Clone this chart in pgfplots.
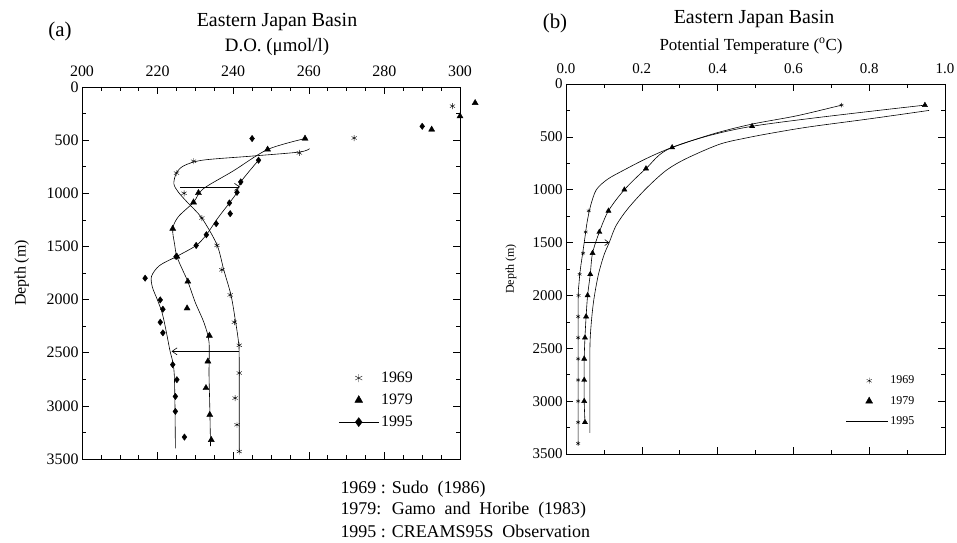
\documentclass[border=0pt]{standalone}
\usepackage{fontspec}
\setmainfont{Liberation Serif}
\usepackage{pgfplots}
\pgfplotsset{compat=1.18}
\usetikzlibrary{arrows.meta}

\newcommand{\fs}[1]{\fontsize{#1}{#1}\selectfont}

\pgfplotsset{
  profile/.style={
    scale only axis, y dir=reverse, ymin=0, ymax=3500,
    ytick={0,500,...,3500}, minor y tick num=1,
    tick align=inside, xticklabel pos=right,
    major tick length=7bp, minor tick length=4bp,
    every tick/.style={black, line width=0.6bp},
    axis line style={line width=0.8bp},
    tick label style={font=\fs{16}},
    xticklabel style={yshift=7bp},
    /pgf/number format/1000 sep={},
    /pgf/number format/assume math mode=true,
    clip=false,
  },
  curve/.style={no marks, smooth, black, line width=0.6bp, forget plot},
  star69/.style={only marks, mark=asterisk, mark size=3bp, black, mark options={line width=0.4bp}, forget plot},
  tri79/.style={only marks, mark=triangle*, mark size=3.5bp, black, forget plot},
  dia95/.style={only marks, mark=diamond*, mark size=3.2bp, black, forget plot},
  arr/.style={black, line width=0.6bp, forget plot},
}

\begin{document}
\begin{tikzpicture}[x=1bp,y=1bp]
\path[use as bounding box] (0,0) rectangle (957,543);

% ---------------- (a) dissolved oxygen
\begin{axis}[profile, at={(82bp,84bp)}, anchor=south west,
  width=378bp, height=372bp,
  xmin=200, xmax=300, xtick={200,220,...,300}, minor x tick num=3,
  ylabel={Depth (m)},
  every axis y label/.style={at={(axis description cs:-0.159,0.5)}, rotate=90, anchor=center, font=\fs{16}},
  legend style={at={(0.67,0.245)}, anchor=north west, draw=none, fill=none,
    font=\fs{16}, row sep=6bp, cells={anchor=west}},
]
\addlegendimage{legend image code/.code={\draw plot[mark=asterisk, mark size=4bp, mark options={line width=0.4bp}] coordinates {(20bp,0bp)};}}
\addlegendimage{legend image code/.code={\draw plot[mark=triangle*, mark size=4.5bp] coordinates {(20bp,0bp)};}}
\addlegendimage{legend image code/.code={\draw[line width=0.6bp] (0bp,0bp) -- (40bp,0bp); \draw plot[mark=diamond*, mark size=4.5bp] coordinates {(20bp,0bp)};}}
\legend{1969,1979,1995}

% 1969 Sudo
\addplot[curve] coordinates {
  (260.2,580) (257.5,612) (245,650) (232,688) (227,740) (225,808)
  (224.3,910) (225.5,990) (228,1090) (231.7,1233) (235.7,1484)
  (237.5,1720) (239.4,1956) (240.5,2180) (241.4,2400) (241.6,2600) (241.6,3430)};
\addplot[star69] coordinates {
  (257.5,620) (229.5,698) (225,810) (227,1000) (231.7,1233) (235.7,1490)
  (237,1720) (239.2,1956) (240.3,2213) (241.6,2430) (241.6,2691)
  (240.5,2927) (241,3178) (241.6,3430) (298,180) (272,480)};

% 1979 Gamo and Horibe
\addplot[curve] coordinates {
  (259,485) (249.1,588) (240,790) (232,960) (229.5,1085) (225.5,1220)
  (224,1333) (224.5,1480) (225.1,1595) (226.8,1736) (228,1830)
  (230,2030) (232.3,2220) (233.6,2400) (233.6,2700) (233.8,3000) (234,3380)};
\addplot[tri79] coordinates {
  (259,485) (249.1,588) (230.8,997) (229.5,1085) (224,1333) (225.1,1595)
  (228,1830) (227.8,2082) (233.7,2339) (233.3,2581) (232.8,2832)
  (233.8,3084) (234.2,3320) (292.5,400) (300,275) (304,150)};

% 1995 CREAMS95S
\addplot[curve] coordinates {
  (246.7,689) (242,893) (241,991) (239,1091) (236,1230) (232.9,1390)
  (230.2,1491) (225,1595) (220.5,1680) (218.4,1780) (218.6,1880)
  (219.8,1990) (221.1,2113) (222,2250) (223.2,2470) (224.4,2700) (224.7,3400)};
\addplot[dia95] coordinates {
  (245,485) (246.7,689) (242,893) (241,991) (239,1091) (239.2,1192)
  (235.5,1286) (232.9,1390) (230.2,1491) (224.9,1595) (216.7,1799)
  (220.7,2003) (221.4,2091) (220.7,2213) (221.4,2313) (224,2612)
  (225.1,2754) (224.7,2911) (224.7,3052) (227.1,3294) (290,370)};

\addplot[arr, -{Straight Barb[length=5bp,width=7bp]}] coordinates {(226,940) (241.8,940)};
\addplot[arr, -{Straight Barb[length=5bp,width=7bp]}] coordinates {(241.6,2487) (223.7,2487)};
\end{axis}

% ---------------- (b) potential temperature
\begin{axis}[profile, at={(566bp,89bp)}, anchor=south west,
  width=379bp, height=370bp,
  xmin=0, xmax=1, xtick={0,0.2,...,1.0}, minor x tick num=1,
  tick label style={font=\fs{15}},
  xticklabel style={/pgf/number format/fixed, /pgf/number format/fixed zerofill, /pgf/number format/precision=1},
  ylabel={Depth (m)},
  every axis y label/.style={at={(axis description cs:-0.145,0.5)}, rotate=90, anchor=center, font=\fs{12}},
  legend style={at={(0.73,0.222)}, anchor=north west, draw=none, fill=none,
    font=\fs{12}, row sep=7bp, cells={anchor=west}},
]
\addlegendimage{legend image code/.code={\draw plot[mark=asterisk, mark size=3bp, mark options={line width=0.3bp}] coordinates {(23bp,0bp)};}}
\addlegendimage{legend image code/.code={\draw plot[mark=triangle*, mark size=4bp] coordinates {(23bp,0bp)};}}
\addlegendimage{legend image code/.code={\draw[line width=0.6bp] (0bp,0bp) -- (42bp,0bp);}}
\legend{1969,1979,1995}

% 1969
\addplot[curve] coordinates {
  (0.727,200) (0.61,300) (0.49,380) (0.39,470) (0.28,600) (0.215,700)
  (0.155,810) (0.11,900) (0.08,1000) (0.065,1150) (0.056,1300)
  (0.05,1450) (0.044,1600) (0.038,1750) (0.034,1900) (0.032,2100) (0.032,3420)};
\addplot[star69, mark size=2.2bp] coordinates {
  (0.727,200) (0.060,1200) (0.052,1400) (0.045,1600) (0.036,1800)
  (0.033,2000) (0.032,2200) (0.032,2400) (0.032,2600) (0.032,2800)
  (0.032,3000) (0.032,3200) (0.032,3400)};

% 1979
\addplot[curve] coordinates {
  (0.947,200) (0.491,400) (0.280,600) (0.211,800) (0.154,1000)
  (0.112,1200) (0.088,1400) (0.070,1600) (0.064,1800) (0.057,2000)
  (0.053,2200) (0.050,2400) (0.048,2600) (0.048,2800) (0.048,3000) (0.050,3200)};
\addplot[tri79, mark size=3bp] coordinates {
  (0.947,200) (0.491,400) (0.280,600) (0.211,800) (0.154,1000)
  (0.112,1200) (0.088,1400) (0.070,1600) (0.064,1800) (0.057,2000)
  (0.053,2200) (0.050,2400) (0.048,2600) (0.048,2800) (0.048,3000) (0.050,3200)};

% 1995
\addplot[curve] coordinates {
  (0.958,250) (0.80,330) (0.643,405) (0.55,460) (0.476,510) (0.405,570)
  (0.317,706) (0.264,818) (0.211,990) (0.163,1180) (0.132,1340)
  (0.114,1500) (0.100,1620) (0.085,1810) (0.073,2050) (0.066,2290)
  (0.063,2530) (0.063,3300)};

\addplot[arr, -{Straight Barb[length=4bp,width=6bp]}] coordinates {(0.048,1500) (0.114,1500)};
\end{axis}

% titles
\node[font=\fs{21}] at (60,512) {(a)};
\node[font=\fs{20}] at (277,521) {Eastern Japan Basin};
\node[font=\fs{19}] at (277,496) {D.O. (μmol/l)};
\node[font=\fs{21}] at (555,520) {(b)};
\node[font=\fs{20}] at (754,524) {Eastern Japan Basin};
\node[font=\fs{17}] at (751,497) {Potential Temperature (\textsuperscript{o}C)};

% references
\node[anchor=west, font=\fs{18}] at (337,54) {1969 : Sudo~ (1986)};
\node[anchor=west, font=\fs{18}] at (337,33) {1979:~ Gamo~ and~ Horibe~ (1983)};
\node[anchor=west, font=\fs{18}] at (337,12) {1995 : CREAMS95S~ Observation};
\end{tikzpicture}
\end{document}
